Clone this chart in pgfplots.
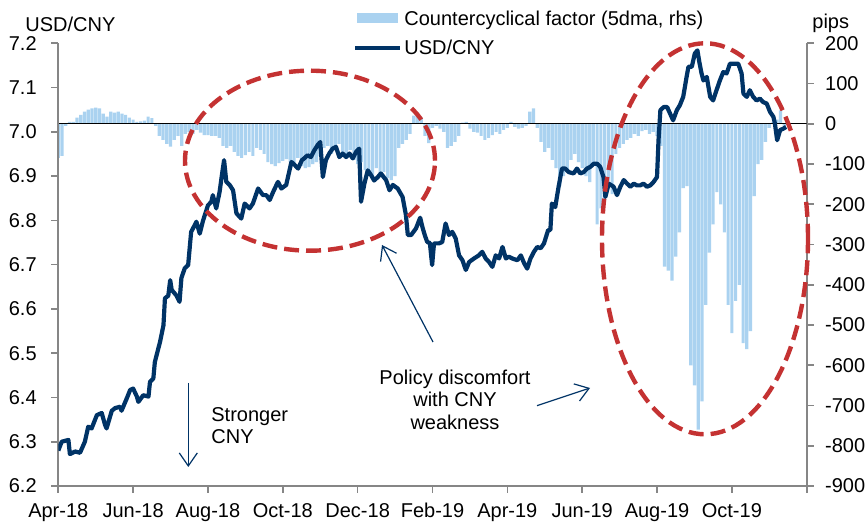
\documentclass[border=0pt]{standalone}
\usepackage{fontspec}
\setmainfont{Liberation Sans}
\usepackage{pgfplots}
\pgfplotsset{compat=1.18}
\usetikzlibrary{arrows.meta}
\definecolor{barblue}{RGB}{170,210,240}
\definecolor{navy}{RGB}{0,51,102}
\definecolor{dred}{RGB}{196,50,50}
\definecolor{axgray}{RGB}{134,134,134}
\begin{document}
\begin{tikzpicture}
\useasboundingbox (0,0) rectangle (433.5pt,261.5pt);
% ---------- right axis: countercyclical factor (bars) ----------
\begin{axis}[
  at={(29.15pt,18.5pt)}, anchor=south west,
  scale only axis, width=374.2pt, height=221.35pt,
  xmin=0, xmax=20, ymin=-900, ymax=200,
  axis x line=none, axis y line*=right,
  ytick={-900,-800,-700,-600,-500,-400,-300,-200,-100,0,100,200},
  y axis line style={axgray, line width=0.8pt, -},
  ytick style={axgray, line width=0.8pt},
  tick align=outside, major tick length=3.5pt,
  /pgf/number format/assume math mode=true,
  yticklabel style={font=\fontsize{10}{12}\selectfont, xshift=2.2pt},
]
\addplot[ybar, bar width=0.085, fill=barblue, draw=none] coordinates {
(0.0,-85) (0.1,-80) (0.2,-5) (0.3,5) (0.4,5) (0.5,15) (0.6,22) (0.7,30) (0.8,35) (0.9,38)
(1.0,40) (1.1,38) (1.2,25) (1.3,18) (1.4,30) (1.5,28) (1.6,30) (1.7,25) (1.8,22) (1.9,15)
(2.0,10) (2.1,5) (2.2,6) (2.3,8) (2.4,18) (2.5,14) (2.6,-5) (2.7,-30) (2.8,-40) (2.9,-50)
(3.0,-57) (3.1,-40) (3.2,-30) (3.3,-55) (3.4,-25) (3.5,-20) (3.6,-25) (3.7,-15) (3.8,-22) (3.9,-28)
(4.0,-28) (4.1,-30) (4.2,-30) (4.3,-35) (4.4,-55) (4.5,-60) (4.6,-55) (4.7,-70) (4.8,-80) (4.9,-85)
(5.0,-78) (5.1,-70) (5.2,-80) (5.3,-60) (5.4,-65) (5.5,-75) (5.6,-95) (5.7,-100) (5.8,-105) (5.9,-98)
(6.0,-92) (6.1,-88) (6.2,-95) (6.3,-100) (6.4,-85) (6.5,-105) (6.6,-110) (6.7,-108) (6.8,-100) (6.9,-95)
(7.0,-80) (7.1,-60) (7.2,-55) (7.3,-75) (7.4,-60) (7.5,-50) (7.6,-70) (7.7,-85) (7.8,-65) (7.9,-90)
(8.0,-100) (8.1,-95) (8.2,-115) (8.3,-120) (8.4,-130) (8.5,-110) (8.6,-125) (8.7,-120) (8.8,-135) (8.9,-140)
(9.0,-130) (9.1,-60) (9.2,-50) (9.3,-40) (9.4,-25) (9.5,20) (9.6,28) (9.7,15) (9.8,-30) (9.9,-48)
(10.0,-10) (10.1,-5) (10.2,-12) (10.3,-20) (10.4,-60) (10.5,-55) (10.6,-45) (10.7,-30) (10.8,3) (10.9,5)
(11.0,-12) (11.1,-20) (11.2,-22) (11.3,-30) (11.4,-40) (11.5,-35) (11.6,-28) (11.7,-20) (11.8,-25) (11.9,-15)
(12.0,-10) (12.1,5) (12.2,-8) (12.3,-12) (12.4,-10) (12.5,-5) (12.6,30) (12.7,38) (12.8,-10) (12.9,-45)
(13.0,-70) (13.1,-60) (13.2,-90) (13.3,-110) (13.4,-155) (13.5,-130) (13.6,-120) (13.7,-90) (13.8,-75) (13.9,-95)
(14.0,-110) (14.1,-130) (14.2,-145) (14.3,-100) (14.4,-250) (14.5,-210) (14.6,-190) (14.7,-150) (14.8,-175) (14.9,-75)
(15.0,-60) (15.1,-50) (15.2,-40) (15.3,-35) (15.4,-25) (15.5,-30) (15.6,-18) (15.7,-15) (15.8,-25) (15.9,-20)
(16.0,-30) (16.1,-55) (16.2,-355) (16.3,-365) (16.4,-390) (16.5,-330) (16.6,-270) (16.7,-160) (16.8,-155) (16.9,-600)
(17.0,-650) (17.1,-760) (17.2,-690) (17.3,-450) (17.4,-320) (17.5,-250) (17.6,-170) (17.7,-200) (17.8,-270) (17.9,-450)
(18.0,-520) (18.1,-440) (18.2,-400) (18.3,-545) (18.4,-560) (18.5,-515) (18.6,-180) (18.7,-100) (18.8,-90) (18.9,-45)
(19.0,-10) (19.1,5) (19.2,10) (19.3,33) (19.4,-5)
};
\draw[black, line width=0.6pt] (axis cs:0,0) -- (axis cs:20,0);
\end{axis}
% ---------- left axis: USD/CNY (line) ----------
\begin{axis}[
  at={(29.15pt,18.5pt)}, anchor=south west,
  scale only axis, width=374.2pt, height=221.35pt,
  xmin=0, xmax=20, ymin=6.2, ymax=7.2,
  axis x line*=bottom, axis y line*=left,
  xtick={0,2,4,6,8,10,12,14,16,18,20},
  xticklabels={Apr-18,Jun-18,Aug-18,Oct-18,Dec-18,Feb-19,Apr-19,Jun-19,Aug-19,Oct-19,{}},
  ytick={6.2,6.3,6.4,6.5,6.6,6.7,6.8,6.9,7.0,7.1,7.2},
  yticklabel={\pgfmathprintnumber[fixed,fixed zerofill,precision=1]{\tick}},
  axis line style={axgray, line width=0.8pt, -},
  tick style={axgray, line width=0.8pt},
  tick align=outside, major tick length=3.5pt,
  /pgf/number format/assume math mode=true,
  yticklabel style={font=\fontsize{10}{12}\selectfont, xshift=-3.8pt},
  xticklabel style={font=\fontsize{10}{12}\selectfont, yshift=-1.7pt},
]
\addplot[navy, line width=2.1pt, line join=round, no markers] coordinates {
(0.00,6.280) (0.09,6.300) (0.27,6.304) (0.31,6.272) (0.45,6.278) (0.58,6.275) (0.71,6.300) (0.80,6.334) (0.89,6.330) (1.03,6.360)
(1.16,6.365) (1.25,6.338) (1.29,6.330) (1.43,6.370) (1.52,6.376) (1.65,6.379) (1.69,6.370) (1.83,6.398) (1.92,6.417) (2.00,6.420)
(2.10,6.402) (2.14,6.390) (2.27,6.405) (2.41,6.402) (2.45,6.435) (2.54,6.443) (2.58,6.480) (2.72,6.526) (2.81,6.563) (2.85,6.624)
(2.94,6.630) (2.99,6.665) (3.03,6.643) (3.16,6.630) (3.24,6.616) (3.29,6.670) (3.38,6.692) (3.47,6.699) (3.55,6.774) (3.65,6.790)
(3.69,6.797) (3.78,6.770) (3.87,6.800) (4.00,6.834) (4.09,6.842) (4.13,6.857) (4.22,6.827) (4.31,6.864) (4.36,6.895) (4.43,6.936)
(4.49,6.887) (4.58,6.880) (4.67,6.868) (4.76,6.816) (4.89,6.804) (4.98,6.838) (5.11,6.827) (5.20,6.838) (5.34,6.872) (5.47,6.857)
(5.56,6.857) (5.65,6.846) (5.74,6.864) (5.87,6.887) (5.96,6.872) (6.09,6.880) (6.23,6.932) (6.32,6.925) (6.41,6.917) (6.51,6.936)
(6.57,6.940) (6.66,6.947) (6.75,6.943) (6.84,6.958) (6.93,6.970) (7.00,6.977) (7.07,6.898) (7.15,6.936) (7.24,6.951) (7.33,6.962)
(7.42,6.966) (7.51,6.943) (7.60,6.951) (7.69,6.943) (7.78,6.951) (7.87,6.940) (7.96,6.955) (8.04,6.962) (8.09,6.842) (8.18,6.883)
(8.27,6.913) (8.36,6.902) (8.44,6.890) (8.54,6.898) (8.62,6.906) (8.76,6.891) (8.85,6.868) (8.94,6.880) (9.07,6.872) (9.20,6.853)
(9.29,6.812) (9.34,6.767) (9.43,6.767) (9.56,6.782) (9.67,6.806) (9.74,6.782) (9.80,6.765) (9.86,6.751) (9.93,6.749) (9.99,6.699)
(10.04,6.748) (10.17,6.748) (10.26,6.751) (10.35,6.793) (10.44,6.767) (10.53,6.774) (10.62,6.759) (10.71,6.721) (10.80,6.710) (10.89,6.688)
(10.98,6.706) (11.11,6.714) (11.24,6.721) (11.33,6.729) (11.42,6.714) (11.51,6.706) (11.60,6.695) (11.69,6.721) (11.78,6.714) (11.87,6.740)
(11.96,6.714) (12.04,6.718) (12.13,6.714) (12.27,6.710) (12.36,6.721) (12.45,6.703) (12.53,6.691) (12.62,6.714) (12.71,6.729) (12.80,6.740)
(12.89,6.737) (12.98,6.748) (13.09,6.778) (13.15,6.778) (13.19,6.838) (13.28,6.830) (13.37,6.876) (13.46,6.917) (13.55,6.917) (13.64,6.909)
(13.77,6.906) (13.86,6.917) (13.95,6.906) (14.04,6.909) (14.13,6.917) (14.22,6.921) (14.31,6.928) (14.40,6.928) (14.48,6.921) (14.57,6.898)
(14.62,6.853) (14.71,6.883) (14.84,6.876) (14.93,6.857) (15.02,6.876) (15.11,6.891) (15.20,6.883) (15.29,6.876) (15.38,6.883) (15.46,6.879)
(15.55,6.879) (15.64,6.883) (15.73,6.876) (15.82,6.879) (15.91,6.887) (16.00,6.898) (16.04,6.981) (16.09,7.049) (16.18,7.056) (16.27,7.056)
(16.35,7.041) (16.43,7.026) (16.53,7.049) (16.61,7.060) (16.70,7.079) (16.79,7.124) (16.84,7.147) (16.93,7.147) (17.01,7.177) (17.08,7.184)
(17.13,7.158) (17.19,7.132) (17.24,7.116) (17.33,7.124) (17.42,7.079) (17.50,7.071) (17.59,7.094) (17.68,7.116) (17.77,7.135) (17.86,7.132)
(17.95,7.154) (18.04,7.154) (18.17,7.154) (18.26,7.132) (18.31,7.086) (18.40,7.079) (18.48,7.094) (18.57,7.079) (18.66,7.071) (18.75,7.075)
(18.84,7.067) (18.93,7.064) (19.02,7.045) (19.11,7.034) (19.15,7.019) (19.21,6.981) (19.29,7.004) (19.37,7.007) (19.45,7.011)
};
\end{axis}
% ---------- titles ----------
\node[anchor=base west, inner sep=0] at (12.5pt,245.5pt) {USD/CNY};
\node[anchor=base west, inner sep=0] at (406pt,247pt) {pips};
% ---------- legend ----------
\fill[barblue] (178.5pt,250pt) rectangle (199pt,255pt);
\node[anchor=base west, inner sep=0] at (202pt,248.5pt) {Countercyclical factor (5dma, rhs)};
\draw[navy, line width=2pt] (177.5pt,237.5pt) -- (200pt,237.5pt);
\node[anchor=base west, inner sep=0] at (202pt,234pt) {USD/CNY};
% ---------- ellipses ----------
\draw[dred, line width=2.2pt, dash pattern=on 7.5pt off 3.5pt] (155pt,181.15pt) ellipse [x radius=62.5pt, y radius=45pt];
\draw[dred, line width=2.2pt, dash pattern=on 7.5pt off 3.5pt] (352.5pt,142.1pt) ellipse [x radius=51.5pt, y radius=97.75pt];
% ---------- annotations ----------
\draw[navy, line width=0.6pt, -{Straight Barb[length=6.5pt,width=9pt]}] (216.5pt,90.5pt) -- (191pt,139pt);
\draw[navy, line width=0.6pt, -{Straight Barb[length=6.5pt,width=9pt]}] (268.5pt,58.65pt) -- (295pt,67.5pt);
\draw[navy, line width=0.6pt, -{Straight Barb[length=6.5pt,width=9pt]}] (94.15pt,70pt) -- (94.15pt,28pt);
\node[anchor=base, inner sep=0] at (227.5pt,69.3pt) {Policy discomfort};
\node[anchor=base, inner sep=0] at (227.5pt,58.15pt) {with CNY};
\node[anchor=base, inner sep=0] at (227.5pt,46.5pt) {weakness};
\node[anchor=base west, inner sep=0] at (105.5pt,50.65pt) {Stronger};
\node[anchor=base west, inner sep=0] at (105.5pt,39.85pt) {CNY};
\end{tikzpicture}
\end{document}
